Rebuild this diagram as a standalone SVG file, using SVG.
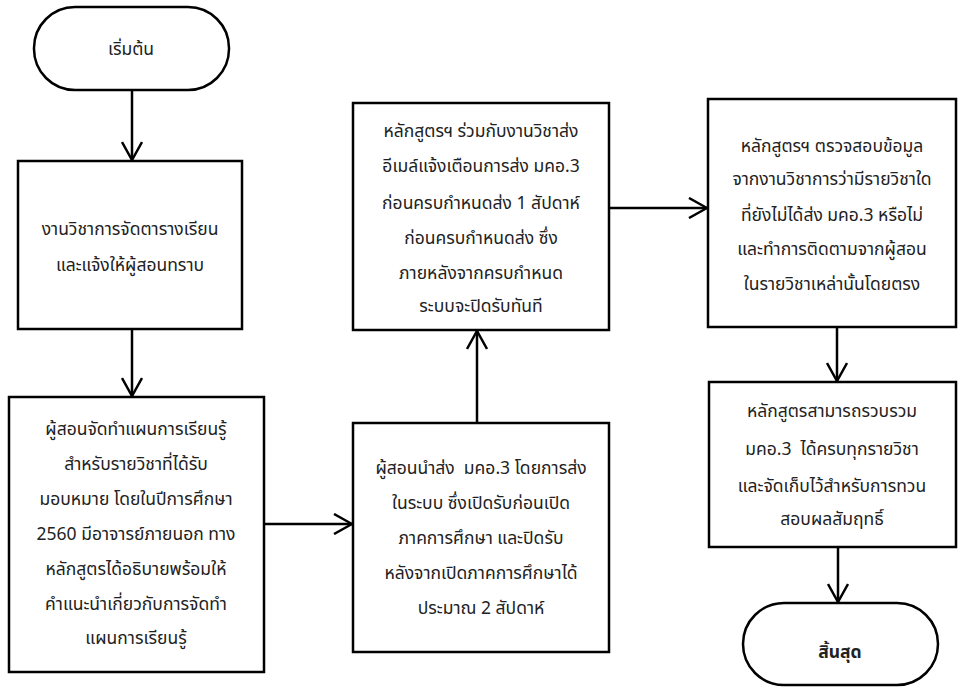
<svg xmlns="http://www.w3.org/2000/svg" width="958" height="687" viewBox="0 0 958 687">
<style>
.box{fill:#fff;stroke:#000;stroke-width:2.5}
.t{font-family:"Noto Sans Thai","Noto Sans","Liberation Sans",sans-serif;font-size:17.5px;fill:#222;text-anchor:middle;white-space:pre}
.b{font-weight:bold}
.c{fill:none;stroke:#000;stroke-width:2.5}
</style>
<defs>
<marker id="ah" viewBox="0 0 20 22" refX="19" refY="11" markerWidth="20" markerHeight="22" markerUnits="userSpaceOnUse" orient="auto">
<path d="M1,1 L19,11 L1,21" fill="none" stroke="#000" stroke-width="2.5"/>
</marker>
</defs>
<rect width="958" height="687" fill="#fff"/>
<g id="connectors">
<line class="c" x1="132" y1="90" x2="132" y2="160" marker-end="url(#ah)"/>
<line class="c" x1="132" y1="329" x2="132" y2="396" marker-end="url(#ah)"/>
<line class="c" x1="264" y1="524" x2="352" y2="524" marker-end="url(#ah)"/>
<line class="c" x1="477" y1="423" x2="477" y2="331" marker-end="url(#ah)"/>
<line class="c" x1="609" y1="208" x2="707" y2="208" marker-end="url(#ah)"/>
<line class="c" x1="837" y1="327" x2="837" y2="381" marker-end="url(#ah)"/>
<line class="c" x1="838" y1="547" x2="838" y2="602" marker-end="url(#ah)"/>
</g>
<g id="start">
<rect class="box" x="34" y="7" width="195" height="83" rx="41" ry="41"/>
<text class="t" x="131" y="55">เริ่มต้น</text>
</g>
<g id="n1">
<rect class="box" x="18" y="161" width="224" height="168"/>
<text class="t" x="130" y="235">งานวิชาการจัดตารางเรียน</text>
<text class="t" x="130" y="271">และแจ้งให้ผู้สอนทราบ</text>
</g>
<g id="n2">
<rect class="box" x="9" y="397" width="255" height="275"/>
<text class="t" x="136" y="435">ผู้สอนจัดทำแผนการเรียนรู้</text>
<text class="t" x="136" y="470">สำหรับรายวิชาที่ได้รับ</text>
<text class="t" x="136" y="505">มอบหมาย โดยในปีการศึกษา</text>
<text class="t" x="136" y="540">2560 มีอาจารย์ภายนอก ทาง</text>
<text class="t" x="136" y="575">หลักสูตรได้อธิบายพร้อมให้</text>
<text class="t" x="136" y="610">คำแนะนำเกี่ยวกับการจัดทำ</text>
<text class="t" x="136" y="644">แผนการเรียนรู้</text>
</g>
<g id="n3">
<rect class="box" x="353" y="423" width="256" height="229"/>
<text class="t" x="481" y="474">ผู้สอนนำส่ง  มคอ.3 โดยการส่ง</text>
<text class="t" x="481" y="509">ในระบบ ซึ่งเปิดรับก่อนเปิด</text>
<text class="t" x="481" y="544">ภาคการศึกษา และปิดรับ</text>
<text class="t" x="481" y="579">หลังจากเปิดภาคการศึกษาได้</text>
<text class="t" x="481" y="614">ประมาณ 2 สัปดาห์</text>
</g>
<g id="n4">
<rect class="box" x="353" y="103" width="256" height="227"/>
<text class="t" x="481" y="137">หลักสูตรฯ ร่วมกับงานวิชาส่ง</text>
<text class="t" x="481" y="172">อีเมล์แจ้งเตือนการส่ง มคอ.3</text>
<text class="t" x="481" y="209">ก่อนครบกำหนดส่ง 1 สัปดาห์</text>
<text class="t" x="481" y="244">ก่อนครบกำหนดส่ง ซึ่ง</text>
<text class="t" x="481" y="279">ภายหลังจากครบกำหนด</text>
<text class="t" x="481" y="312">ระบบจะปิดรับทันที</text>
</g>
<g id="n5">
<rect class="box" x="708" y="99" width="248" height="228"/>
<text class="t" x="832" y="152">หลักสูตรฯ ตรวจสอบข้อมูล</text>
<text class="t" x="832" y="185">จากงานวิชาการว่ามีรายวิชาใด</text>
<text class="t" x="832" y="221">ที่ยังไม่ได้ส่ง มคอ.3 หรือไม่</text>
<text class="t" x="832" y="255">และทำการติดตามจากผู้สอน</text>
<text class="t" x="832" y="290">ในรายวิชาเหล่านั้นโดยตรง</text>
</g>
<g id="n6">
<rect class="box" x="709" y="382" width="247" height="165"/>
<text class="t" x="832" y="417">หลักสูตรสามารถรวบรวม</text>
<text class="t" x="832" y="455">มคอ.3  ได้ครบทุกรายวิชา</text>
<text class="t" x="832" y="492">และจัดเก็บไว้สำหรับการทวน</text>
<text class="t" x="832" y="525">สอบผลสัมฤทธิ์</text>
</g>
<g id="end">
<rect class="box" x="743" y="603" width="195" height="82" rx="41" ry="41"/>
<text class="t b" x="840" y="658">สิ้นสุด</text>
</g>
</svg>
